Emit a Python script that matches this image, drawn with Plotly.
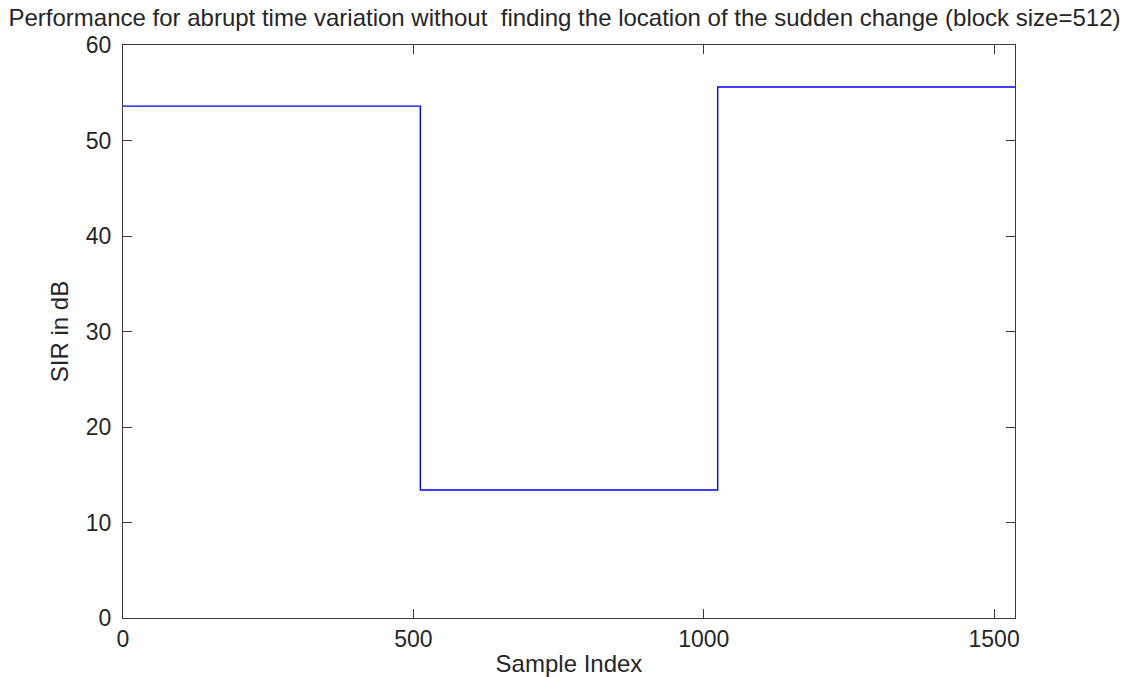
import plotly.graph_objects as go

# Data
step_x = [0, 512, 1024, 1536]
sir_db = [53.6, 13.4, 55.6, 55.6]
x_ticks = [0, 500, 1000, 1500]
y_ticks = [0, 10, 20, 30, 40, 50, 60]

fig = go.Figure()
fig.add_trace(go.Scatter(
    x=step_x, y=sir_db, mode="lines", line_shape="hv",
    line=dict(color="#0000ff", width=1.4), showlegend=False, hoverinfo="skip"
))

font = dict(family="Liberation Sans, Arial, sans-serif", size=23, color="#262626")
tfont = dict(family="Liberation Sans, Arial, sans-serif", size=24, color="#262626")
axis_common = dict(
    showgrid=False, zeroline=False, showline=True, linecolor="#3a3a3a", linewidth=1,
    mirror="ticks", ticks="inside", ticklen=9, tickcolor="#3a3a3a", tickwidth=1,
    tickfont=font, automargin=False,
)
fig.update_layout(
    width=1129, height=677,
    margin=dict(l=123, r=114, t=45, b=59),
    paper_bgcolor="white", plot_bgcolor="white",
    font=font,
    title=dict(text="Performance for abrupt time variation without  finding the location of the sudden change (block size=512)",
               x=0.5, xanchor="center", y=0.974, yanchor="middle", font=tfont,
               automargin=False),
    xaxis=dict(range=[0, 1536], tickvals=x_ticks, ticklabelstandoff=0,
               title=dict(text="Sample Index", font=tfont, standoff=4), **axis_common),
    yaxis=dict(range=[0, 60], tickvals=y_ticks, ticklabelstandoff=6,
               title=dict(text="SIR in dB", font=tfont, standoff=10), **axis_common),
)
fig.write_html("out.html")
